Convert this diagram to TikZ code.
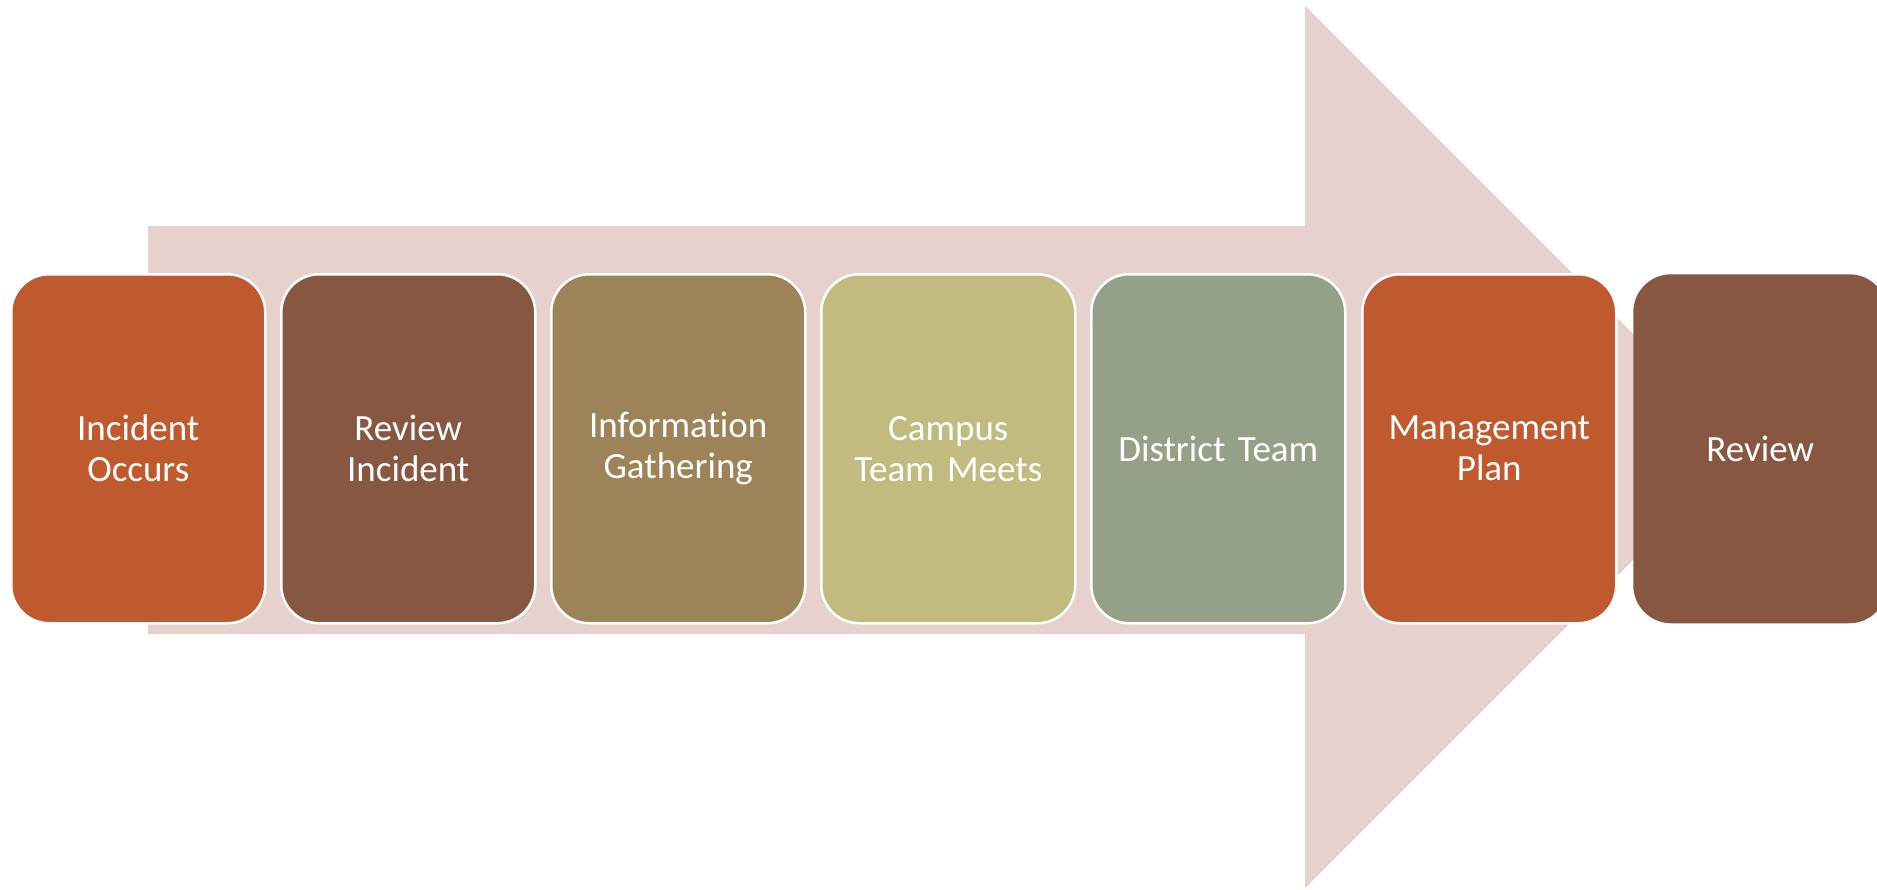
\documentclass[tikz,border=0pt]{standalone}
\usepackage{fontspec}
\setmainfont[Ligatures={NoCommon}]{Carlito}
\definecolor{arrowpink}{HTML}{E7D1CD}
\definecolor{corange}{HTML}{BE5A2D}
\definecolor{cbrown}{HTML}{875741}
\definecolor{colive}{HTML}{9C8358}
\definecolor{ckhaki}{HTML}{C1BB80}
\definecolor{csage}{HTML}{95A088}
\begin{document}
\begin{tikzpicture}[x=1pt,y=-1pt,
  stepbox/.style={draw=white, line width=2.5pt, rounded corners=38pt,
    minimum width=254pt, minimum height=349pt, anchor=north west,
    text=white, align=center, text width=250pt, inner sep=0pt,
    font=\fontsize{37}{41}\selectfont}]
\useasboundingbox (0,0) rectangle (1877,889);
\begin{scope}
\clip (0,0) rectangle (1877,889);
\fill[arrowpink] (148,226) -- (1305,226) -- (1305,6) -- (1746,447)
  -- (1305,888) -- (1305,634) -- (148,634) -- cycle;
\node[stepbox, fill=corange] (s1) at (10,273) {Incident\\Occurs};
\node[stepbox, fill=cbrown] (s2) at (280,273) {Review\\Incident};
\node[stepbox, fill=colive] (s3) at (550,273) {Information\\Gathering};
\node[stepbox, fill=ckhaki] (s4) at (820,273) {Campus\\Team Meets};
\node[stepbox, fill=csage] (s5) at (1090,273) {District Team};
\node[stepbox, fill=corange] (s6) at (1361,273) {Management\\Plan};
\node[stepbox, fill=cbrown, draw=none] (s7) at (1632,273) {Review};
\end{scope}
\end{tikzpicture}
\end{document}
